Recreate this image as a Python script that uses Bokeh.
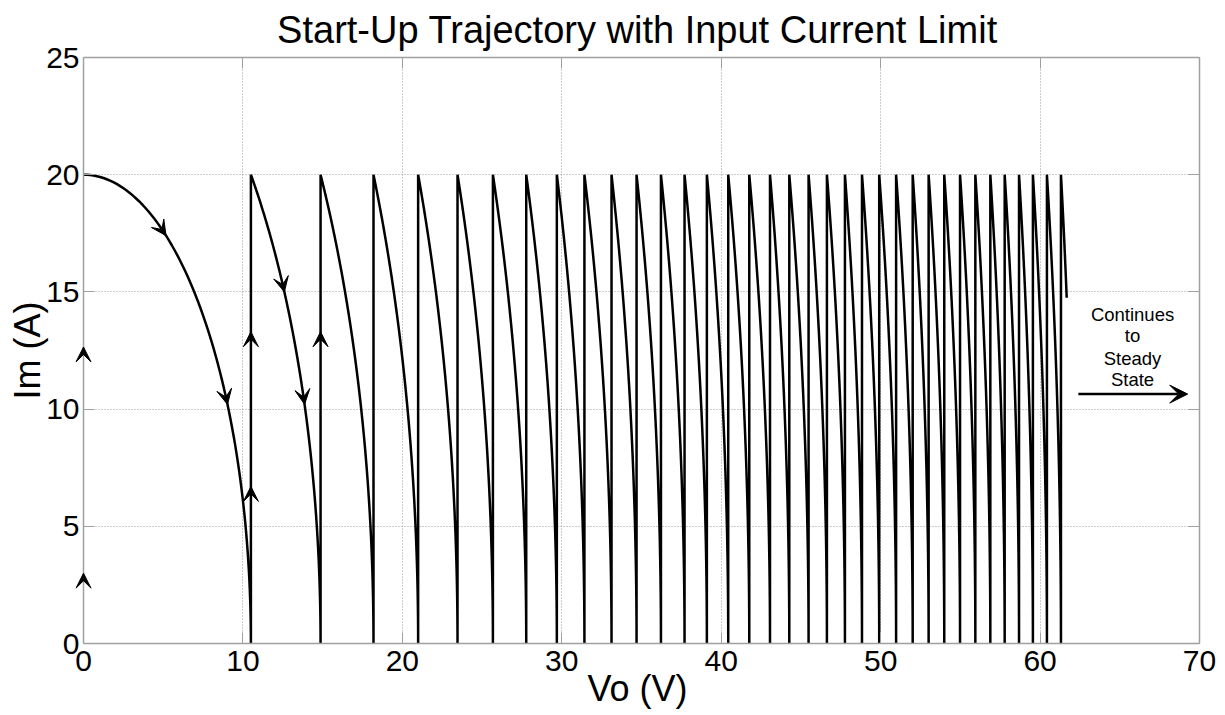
import numpy as np
from bokeh.plotting import figure
from bokeh.models import (Arrow, VeeHead, LinearAxis, ColumnDataSource, FixedTicker,
                          Range1d)
from bokeh.core.properties import value
from bokeh.embed import file_html
from bokeh.resources import INLINE

# ---------------- data ----------------
x_ticks = [0, 10, 20, 30, 40, 50, 60, 70]
y_ticks = [0, 5, 10, 15, 20, 25]

peak_current = 20.0            # current limit (A) at the top of every arc
# output voltage at which each arc reaches 0 A (and the current jumps back to 20 A)
peak_v = [0.0, 10.50, 14.87, 18.19, 20.99, 23.46, 25.68, 27.77, 29.69, 31.42,
          33.12, 34.69, 36.22, 37.70, 39.10, 40.44, 41.76, 43.06, 44.27, 45.48,
          46.63, 47.76, 48.83, 49.91, 50.97, 52.01, 53.01, 53.99, 54.98, 55.94,
          56.88, 57.78, 58.68, 59.55, 60.43, 61.31]
# last (unfinished) arc ends here
end_v = 61.67
end_i = 14.75

# direction arrows on vertical jumps (pointing up)
up_arrow_v = [0.0, 0.0, 10.50, 10.50, 14.87]
up_arrow_i = [3.0, 12.65, 6.7, 13.3, 13.3]
# direction arrows on arcs: arc number and current at the tip
arc_arrow_arc = [1, 1, 2, 2]
arc_arrow_i = [17.4, 10.2, 15.0, 10.2]

note_lines = ["Continues", "to", "Steady", "State"]
note_x = 65.8
note_y = [14.05, 13.13, 12.16, 11.25]
cont_arrow_x = [62.4, 69.26]
cont_arrow_y = 10.64

# ---------------- layout ----------------
W, H = 1225, 715
BL, BR, BT, BB = 83, 26, 57, 72       # plot box position in the page
PAD_L = 8                              # extra drawing room left of Vo = 0
XR, YR = (0, 70), (0, 25)
PX_X = (W - BL - BR) / (XR[1] - XR[0])
X_START = XR[0] - PAD_L / PX_X


# ---------------- geometry helpers ----------------
def arc_v(va, vb, ib, i):
    """Voltage on the state-plane arc from (va, 20 A) to (vb, ib)."""
    i = np.asarray(i, dtype=float)
    k = (vb ** 2 - va ** 2) / (peak_current ** 2 - ib ** 2)
    return np.sqrt(va ** 2 + k * (peak_current ** 2 - i ** 2))


def arc_points(va, vb, ib, n=80):
    th = np.linspace(0.0, np.arccos(ib / peak_current), n)
    ii = peak_current * np.cos(th)
    return list(arc_v(va, vb, ib, ii)), list(ii)


xs, ys = [], []
for n in range(1, len(peak_v)):
    ax, ay = arc_points(peak_v[n - 1], peak_v[n], 0.0)
    xs += ax
    ys += ay
    xs.append(peak_v[n])
    ys.append(peak_current)
ax, ay = arc_points(peak_v[-1], end_v, end_i, 30)
xs += ax
ys += ay

src = ColumnDataSource(data=dict(x=xs, y=ys))

# ---------------- figure ----------------
FONT = "Liberation Sans"
GREY = "#a0a0a0"
HEAD = 15

p = figure(width=W, height=H, output_backend="svg", toolbar_location=None,
           x_range=Range1d(X_START, XR[1]), y_range=Range1d(*YR),
           min_border_left=BL - PAD_L, min_border_right=BR, min_border_top=BT,
           min_border_bottom=BB,
           title="Start-Up Trajectory with Input Current Limit")

p.title.text_font = FONT
p.title.text_font_size = "38px"
p.title.text_font_style = "normal"
p.title.align = "center"
p.title.text_color = "black"
p.title.standoff = 13

p.outline_line_color = None
p.background_fill_color = "white"
p.border_fill_color = "white"

p.xaxis.ticker = FixedTicker(ticks=x_ticks)
p.yaxis.ticker = FixedTicker(ticks=y_ticks)
p.xaxis.bounds = XR
p.xaxis.axis_label = "Vo (V)"
p.yaxis.axis_label = "Im (A)"
for ax_ in (p.xaxis, p.yaxis):
    ax_.axis_label_text_font = FONT
    ax_.axis_label_text_font_size = "36px"
    ax_.axis_label_text_font_style = "normal"
    ax_.axis_label_text_color = "black"
    ax_.major_label_text_font = FONT
    ax_.major_label_text_font_size = "30px"
    ax_.major_label_text_color = "black"
    ax_.axis_line_color = GREY
    ax_.axis_line_width = 1.5
    ax_.major_tick_line_color = GREY
    ax_.major_tick_in = 11
    ax_.major_tick_out = 0
    ax_.minor_tick_line_color = None
p.xaxis.major_label_standoff = 7
p.xaxis.axis_label_standoff = -6
# left axis carries only the labels; it sits PAD_L px left of Vo = 0
p.yaxis.axis_line_color = None
p.yaxis.major_tick_line_color = None
p.yaxis.major_label_standoff = 4 - PAD_L
p.yaxis.axis_label_standoff = -5

# box line at Vo = 0 with inward ticks (no labels)
left_rule = LinearAxis(ticker=FixedTicker(ticks=y_ticks), fixed_location=XR[0],
                       major_label_text_font_size="0px", major_label_text_color=None,
                       major_label_standoff=0, axis_line_color=GREY, axis_line_width=1.5,
                       major_tick_line_color=GREY, major_tick_in=11, major_tick_out=0,
                       minor_tick_line_color=None)
p.add_layout(left_rule, "left")

# mirrored tick marks on right and top (no labels)
for side, ticks in (("right", y_ticks), ("above", x_ticks)):
    a = LinearAxis(ticker=FixedTicker(ticks=ticks), major_label_text_font_size="0px",
                   major_label_text_color=None, major_label_standoff=0,
                   axis_line_color=GREY, axis_line_width=1.5,
                   major_tick_line_color=GREY, major_tick_in=11, major_tick_out=0,
                   minor_tick_line_color=None)
    if side == "above":
        a.bounds = XR
    p.add_layout(a, side)

p.grid.grid_line_color = "#9a9a9a"
p.grid.grid_line_dash = "1 2"
p.grid.grid_line_width = 1
p.xgrid.bounds = XR
p.ygrid.cross_bounds = XR

# trajectory
p.line("x", "y", source=src, line_color="black", line_width=2.5)

# direction arrows
for v, i in zip(up_arrow_v, up_arrow_i):
    p.add_layout(Arrow(x_start=v, y_start=i - 0.6, x_end=v, y_end=i, line_alpha=0,
                       end=VeeHead(size=HEAD, fill_color="black", line_color="black",
                                   line_width=1)))
for n, i in zip(arc_arrow_arc, arc_arrow_i):
    tip = float(arc_v(peak_v[n - 1], peak_v[n], 0.0, i))
    tail = float(arc_v(peak_v[n - 1], peak_v[n], 0.0, i + 0.6))
    p.add_layout(Arrow(x_start=tail, y_start=i + 0.6, x_end=tip, y_end=i, line_alpha=0,
                       end=VeeHead(size=HEAD, fill_color="black", line_color="black",
                                   line_width=1)))

# note
p.text(x=[note_x] * len(note_lines), y=note_y, text=note_lines,
       text_font=value(FONT), text_font_size="18.5px", text_align="center",
       text_baseline="middle", text_color="black")
p.add_layout(Arrow(x_start=cont_arrow_x[0], y_start=cont_arrow_y,
                   x_end=cont_arrow_x[1], y_end=cont_arrow_y,
                   line_color="black", line_width=2.5,
                   end=VeeHead(size=18, fill_color="black", line_color="black",
                               line_width=1)))

open("out.html", "w").write(file_html(p, INLINE))
